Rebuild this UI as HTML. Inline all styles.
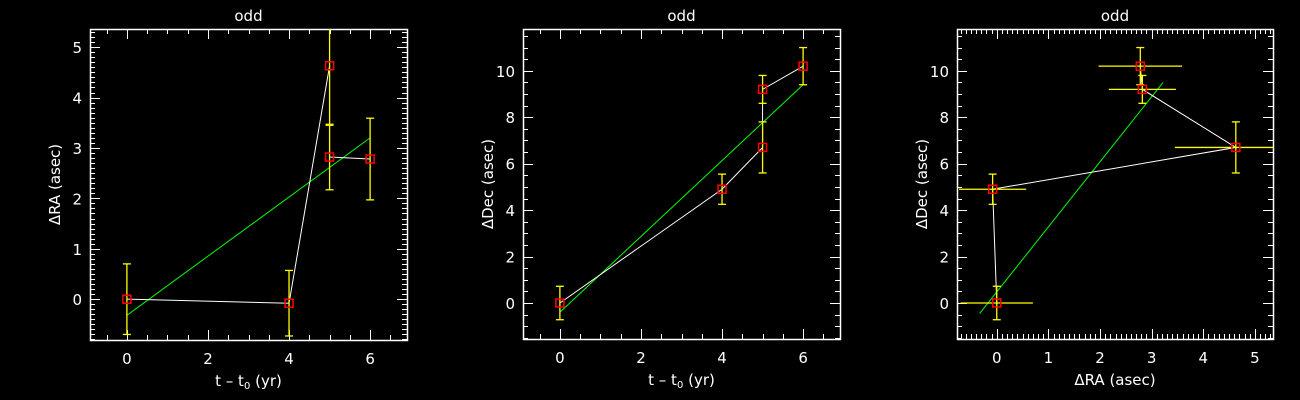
<!DOCTYPE html>
<html><head><meta charset="utf-8"><style>
html,body{margin:0;padding:0;background:#000;}
svg{display:block;}
text{font-family:"DejaVu Sans","Liberation Sans",sans-serif;fill:#fff;font-size:15px;font-weight:normal;}
</style></head><body>
<svg id="chart" width="1300" height="400"></svg>
<script>
// data
const tVals = [0, 4, 5, 5, 6];
const raVals = [0, -0.08, 4.63, 2.82, 2.78];
const decVals = [0, 4.9, 6.7, 9.2, 10.2];
const raErr = [0.7, 0.65, 1.18, 0.65, 0.81];
const decErr = [0.72, 0.65, 1.1, 0.6, 0.8];
const fitRaT = [0, 6];
const fitRaV = [-0.32, 3.2];
const fitDecT = [0, 6];
const fitDecV = [-0.4, 9.4];
const fitXYx = [-0.33, 3.22];
const fitXYy = [-0.45, 9.5];
const xTicksT = [0, 2, 4, 6];
const yTicksRA = [0, 1, 2, 3, 4, 5];
const yTicksDec = [0, 2, 4, 6, 8, 10];
const xTicksRA = [0, 1, 2, 3, 4, 5];

const NS = "http://www.w3.org/2000/svg";
const svg = document.getElementById('chart');
function el(tag, attrs, parent) {
  const e = document.createElementNS(NS, tag);
  for (const k in attrs) e.setAttribute(k, attrs[k]);
  (parent || svg).appendChild(e);
  return e;
}

function panel(cfg) {
  const g = el('g', {});
  
  
  const L = cfg.box[0], R = cfg.box[1], T = cfg.box[2], B = cfg.box[3];
  const sx = v => L + (v - cfg.xr[0]) / (cfg.xr[1] - cfg.xr[0]) * (R - L);
  const sy = v => B - (v - cfg.yr[0]) / (cfg.yr[1] - cfg.yr[0]) * (B - T);
  const clipId = cfg.name + '-clip';
  const cp = el('clipPath', { id: clipId }, g);
  el('rect', { x: L, y: T, width: R - L, height: B - T }, cp);
  const tg = el('g', { stroke: '#fff', 'stroke-width': 1 }, g);
  
  
  const eps = 1e-6;
  for (let v = Math.ceil(cfg.xr[0] / cfg.xMinor) * cfg.xMinor; v <= cfg.xr[1] + eps; v += cfg.xMinor) {
    const isMaj = Math.abs(v / cfg.xMajor - Math.round(v / cfg.xMajor)) < 1e-4;
    const len = isMaj ? 10 : 5; const x = Math.round(sx(v)) + 0.5;
    el('line', { x1: x, x2: x, y1: B, y2: B - len }, tg);
    el('line', { x1: x, x2: x, y1: T, y2: T + len }, tg);
  }
  for (let v = Math.ceil(cfg.yr[0] / cfg.yMinor) * cfg.yMinor; v <= cfg.yr[1] + eps; v += cfg.yMinor) {
    const isMaj = Math.abs(v / cfg.yMajor - Math.round(v / cfg.yMajor)) < 1e-4;
    const len = isMaj ? 10 : 5; const y = Math.round(sy(v)) + 0.5;
    el('line', { x1: L, x2: L + len, y1: y, y2: y }, tg);
    el('line', { x1: R, x2: R - len, y1: y, y2: y }, tg);
  }
  const box = el('rect', { x: L + 0.5, y: T + 0.5, width: R - L, height: B - T, fill: 'none', stroke: '#fff', 'stroke-width': 1.5 }, g);
  
  
  cfg.xTicks.forEach(v => {
    const t = el('text', { x: sx(v), y: B + 24, 'text-anchor': 'middle' }, g);
    t.textContent = v;
    
    
  });
  cfg.yTicks.forEach(v => {
    const t = el('text', { x: L - 8, y: sy(v) + 6, 'text-anchor': 'end' }, g);
    t.textContent = v;
    
    
  });
  const title = el('text', { x: (L + R) / 2, y: 21, 'text-anchor': 'middle', 'font-size': 16 }, g);
  title.textContent = 'odd';
  
  
  const xt = el('text', { x: (L + R) / 2, y: B + 46, 'text-anchor': 'middle', 'font-size': 16 }, g);
  xt.innerHTML = cfg.xTitle;
  
  
  const yt = el('text', { x: 0, y: 0, 'text-anchor': 'middle', 'font-size': 16, transform: `translate(${L - 30},${(T + B) / 2}) rotate(-90)` }, g);
  yt.textContent = cfg.yTitle;
  
  

  const dg = el('g', { 'clip-path': `url(#${clipId})` }, g);
  const fit = el('line', { x1: sx(cfg.fx[0]), y1: sy(cfg.fy[0]), x2: sx(cfg.fx[1]), y2: sy(cfg.fy[1]), stroke: '#00ff00', 'stroke-width': 1 }, dg);
  
  
  const pts = cfg.xs.map((x, i) => sx(x) + ',' + sy(cfg.ys[i])).join(' ');
  const pl = el('polyline', { points: pts, fill: 'none', stroke: '#fff', 'stroke-width': 1 }, dg);
  
  
  cfg.xs.forEach((x, i) => {
    const y = cfg.ys[i];
    const eg = el('g', { stroke: '#ffff00', 'stroke-width': 1.3 }, dg);
    
    
    if (cfg.ye) {
      const e = cfg.ye[i];
      el('line', { x1: sx(x), x2: sx(x), y1: sy(y - e), y2: sy(y + e) }, eg);
      el('line', { x1: sx(x) - 4, x2: sx(x) + 4, y1: sy(y - e), y2: sy(y - e) }, eg);
      el('line', { x1: sx(x) - 4, x2: sx(x) + 4, y1: sy(y + e), y2: sy(y + e) }, eg);
    }
    if (cfg.xe) {
      const e = cfg.xe[i];
      el('line', { x1: sx(x - e), x2: sx(x + e), y1: sy(y), y2: sy(y) }, eg);
    }
  });
  cfg.xs.forEach((x, i) => {
    const m = el('rect', { x: sx(x) - 4, y: sy(cfg.ys[i]) - 4, width: 8, height: 8, fill: 'none', stroke: '#ff0000', 'stroke-width': 1.5 }, dg);
    
    
  });
}

panel({ name: 'panel-ra-vs-time', box: [90, 407, 29, 340], xr: [-0.91, 6.91], yr: [-0.81, 5.36],
  xMajor: 2, xMinor: 0.5, yMajor: 1, yMinor: 0.1, xTicks: xTicksT, yTicks: yTicksRA,
  xTitle: 't &#8211; t<tspan font-size="10" dy="3">0</tspan><tspan dy="-3"> (yr)</tspan>', yTitle: 'ΔRA (asec)',
  xs: tVals, ys: raVals, ye: raErr, fx: fitRaT, fy: fitRaV });
panel({ name: 'panel-dec-vs-time', box: [523, 840, 29, 339], xr: [-0.91, 6.91], yr: [-1.55, 11.8],
  xMajor: 2, xMinor: 0.5, yMajor: 2, yMinor: 0.5, xTicks: xTicksT, yTicks: yTicksDec,
  xTitle: 't &#8211; t<tspan font-size="10" dy="3">0</tspan><tspan dy="-3"> (yr)</tspan>', yTitle: 'ΔDec (asec)',
  xs: tVals, ys: decVals, ye: decErr, fx: fitDecT, fy: fitDecV });
panel({ name: 'panel-dec-vs-ra', box: [957, 1273, 29, 339], xr: [-0.77, 5.35], yr: [-1.55, 11.8],
  xMajor: 1, xMinor: 0.1, yMajor: 2, yMinor: 0.5, xTicks: xTicksRA, yTicks: yTicksDec,
  xTitle: 'ΔRA (asec)', yTitle: 'ΔDec (asec)',
  xs: raVals, ys: decVals, ye: decErr, xe: raErr, fx: fitXYx, fy: fitXYy });
</script>
</body></html>
